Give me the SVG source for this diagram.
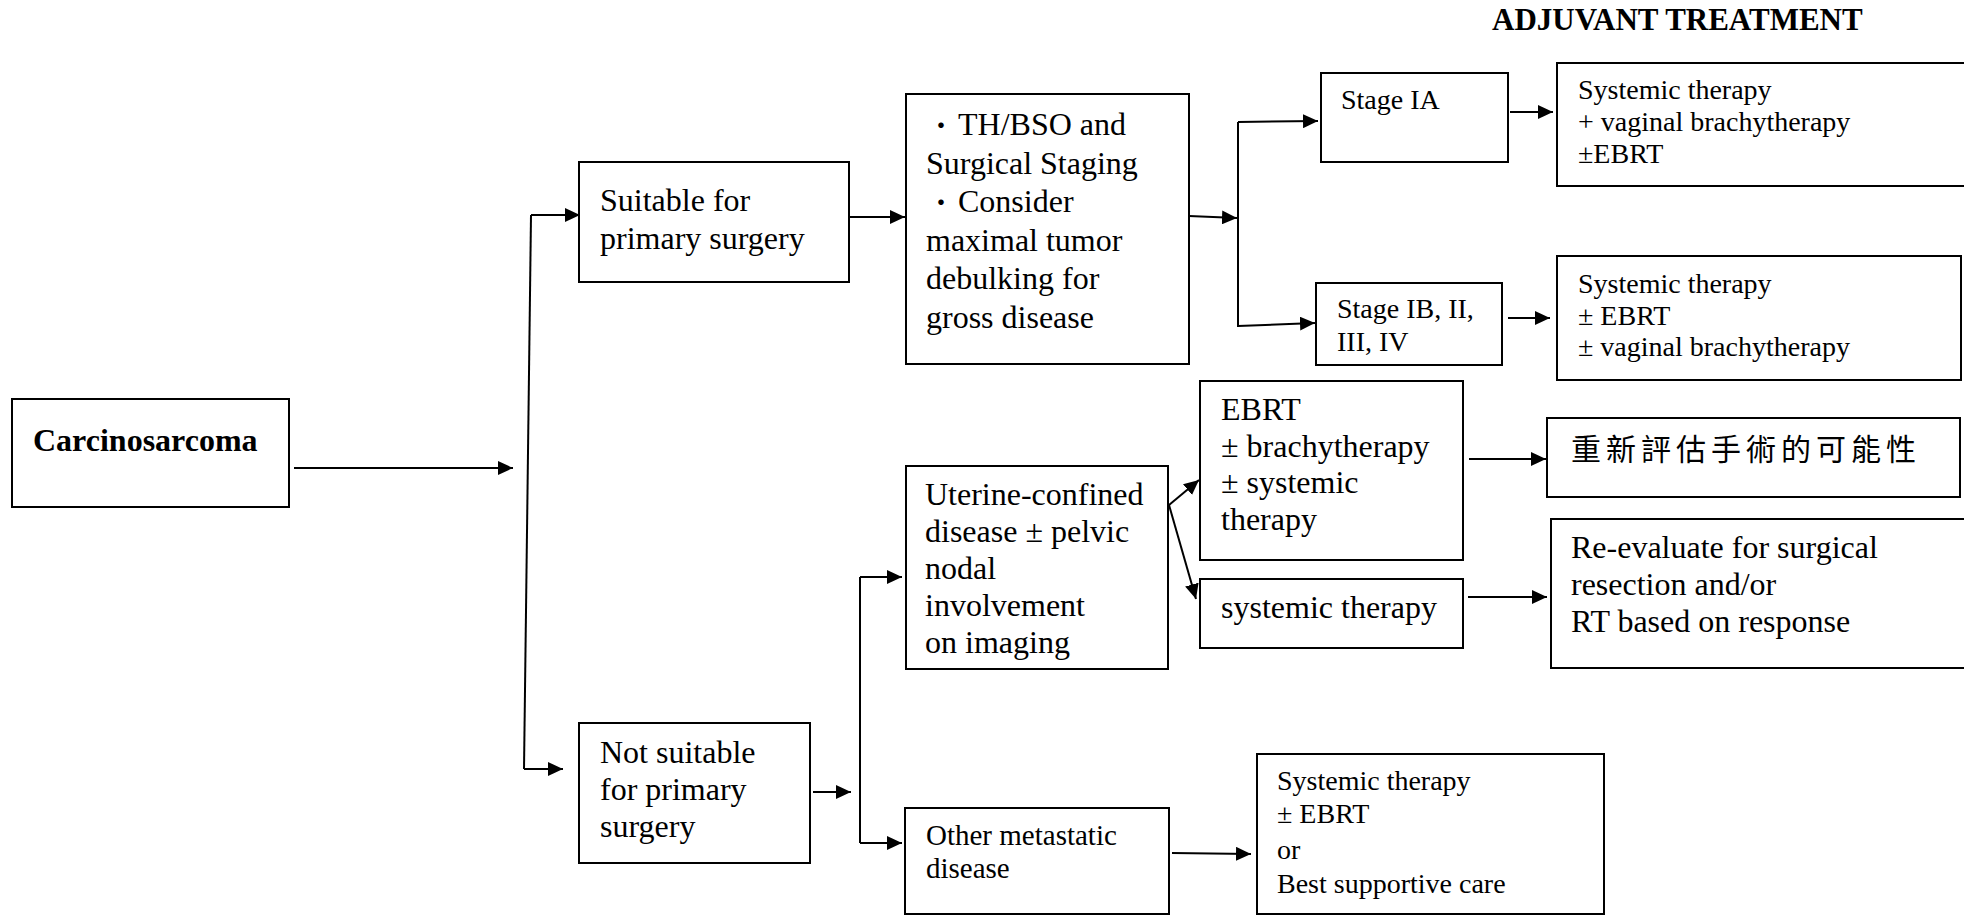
<svg xmlns="http://www.w3.org/2000/svg" width="1964" height="916" viewBox="0 0 1964 916">
<style>
.box{fill:#fff;stroke:#000;stroke-width:2}
.t{font-family:"Liberation Serif","Times New Roman",serif;font-size:32px;fill:#000}
.s{font-size:28px}
.o{font-size:29px}
.b{font-weight:bold}
.d{font-family:"Noto Sans CJK TC","Noto Sans CJK JP",sans-serif;font-size:26px}
.c{fill:none;stroke:#000;stroke-width:2}
.cj{font-family:"Noto Sans CJK TC",sans-serif;font-size:30px;letter-spacing:5px;fill:#000}
</style>
<defs>
<marker id="ah" markerUnits="userSpaceOnUse" markerWidth="15" markerHeight="14" refX="15" refY="7" orient="auto">
<path d="M0,0 L15,7 L0,14 z" fill="#000"/>
</marker>
</defs>
<rect width="1964" height="916" fill="#fff"/>
<text class="t b" x="1492" y="30" style="font-size:31px">ADJUVANT TREATMENT</text>

<g id="carcinosarcoma"><rect class="box" x="12" y="399" width="277" height="108"/><text class="t b" x="33" y="451">Carcinosarcoma</text></g>
<g id="suitable"><rect class="box" x="579" y="162" width="270" height="120"/><text class="t" x="600" y="211">Suitable for</text><text class="t" x="600" y="249">primary surgery</text></g>
<g id="thbso"><rect class="box" x="906" y="94" width="283" height="270"/>
<text class="t" x="928" y="135"><tspan class="d">・</tspan><tspan dx="4">TH/BSO and</tspan></text>
<text class="t" x="926" y="174">Surgical Staging</text>
<text class="t" x="928" y="212"><tspan class="d">・</tspan><tspan dx="4">Consider</tspan></text>
<text class="t" x="926" y="251">maximal tumor</text>
<text class="t" x="926" y="289">debulking for</text>
<text class="t" x="926" y="328">gross disease</text></g>
<g id="stageIA"><rect class="box" x="1321" y="73" width="187" height="89"/><text class="t s" x="1341" y="109">Stage IA</text></g>
<g id="stageIB"><rect class="box" x="1316" y="283" width="186" height="82"/><text class="t s" x="1337" y="318">Stage IB, II,</text><text class="t s" x="1337" y="351">III, IV</text></g>
<g id="adj1"><rect class="box" x="1557" y="63" width="409" height="123"/><text class="t s" x="1578" y="99">Systemic therapy</text><text class="t s" x="1578" y="131">+ vaginal brachytherapy</text><text class="t s" x="1578" y="163">±EBRT</text></g>
<g id="adj2"><rect class="box" x="1557" y="256" width="404" height="124"/><text class="t s" x="1578" y="293">Systemic therapy</text><text class="t s" x="1578" y="325">± EBRT</text><text class="t s" x="1578" y="356">± vaginal brachytherapy</text></g>
<g id="ebrt"><rect class="box" x="1200" y="381" width="263" height="179"/><text class="t" x="1221" y="420">EBRT</text><text class="t" x="1221" y="457">± brachytherapy</text><text class="t" x="1221" y="493">± systemic</text><text class="t" x="1221" y="530">therapy</text></g>
<g id="systemic"><rect class="box" x="1200" y="579" width="263" height="69"/><text class="t" x="1221" y="618">systemic therapy</text></g>
<g id="reassess"><rect class="box" x="1547" y="418" width="413" height="79"/><text class="cj" x="1571" y="460">重新評估手術的可能性</text></g>
<g id="reevaluate"><rect class="box" x="1551" y="519" width="415" height="149"/><text class="t" x="1571" y="558">Re-evaluate for surgical</text><text class="t" x="1571" y="595">resection and/or</text><text class="t" x="1571" y="632">RT based on response</text></g>
<g id="uterine"><rect class="box" x="906" y="466" width="262" height="203"/><text class="t" x="925" y="505">Uterine-confined</text><text class="t" x="925" y="542">disease ± pelvic</text><text class="t" x="925" y="579">nodal</text><text class="t" x="925" y="616">involvement</text><text class="t" x="925" y="653">on imaging</text></g>
<g id="notsuitable"><rect class="box" x="579" y="723" width="231" height="140"/><text class="t" x="600" y="763">Not suitable</text><text class="t" x="600" y="800">for primary</text><text class="t" x="600" y="837">surgery</text></g>
<g id="other"><rect class="box" x="905" y="808" width="264" height="106"/><text class="t o" x="926" y="845">Other metastatic</text><text class="t o" x="926" y="878">disease</text></g>
<g id="palliative"><rect class="box" x="1257" y="754" width="347" height="160"/><text class="t s" x="1277" y="790">Systemic therapy</text><text class="t s" x="1277" y="823">± EBRT</text><text class="t s" x="1277" y="859">or</text><text class="t s" x="1277" y="893">Best supportive care</text></g>

<g id="connectors">
<path class="c" d="M294,468 H513" marker-end="url(#ah)"/>
<path class="c" d="M531,215 L524,769"/>
<path class="c" d="M531,215 H580" marker-end="url(#ah)"/>
<path class="c" d="M524,769 H563" marker-end="url(#ah)"/>
<path class="c" d="M849,217 H905" marker-end="url(#ah)"/>
<path class="c" d="M1189,216 L1237,218" marker-end="url(#ah)"/>
<path class="c" d="M1238,122 V327"/>
<path class="c" d="M1238,122 L1318,121" marker-end="url(#ah)"/>
<path class="c" d="M1238,326 L1315,323" marker-end="url(#ah)"/>
<path class="c" d="M1510,112 H1553" marker-end="url(#ah)"/>
<path class="c" d="M1508,318 H1550" marker-end="url(#ah)"/>
<path class="c" d="M813,792 H851" marker-end="url(#ah)"/>
<path class="c" d="M860,577 V843"/>
<path class="c" d="M860,577 H902" marker-end="url(#ah)"/>
<path class="c" d="M860,843 H902" marker-end="url(#ah)"/>
<path class="c" d="M1169,505 L1199,480" marker-end="url(#ah)"/>
<path class="c" d="M1169,505 L1196,599" marker-end="url(#ah)"/>
<path class="c" d="M1469,459 H1546" marker-end="url(#ah)"/>
<path class="c" d="M1468,597 H1547" marker-end="url(#ah)"/>
<path class="c" d="M1172,853 L1251,854" marker-end="url(#ah)"/>
</g>
</svg>
